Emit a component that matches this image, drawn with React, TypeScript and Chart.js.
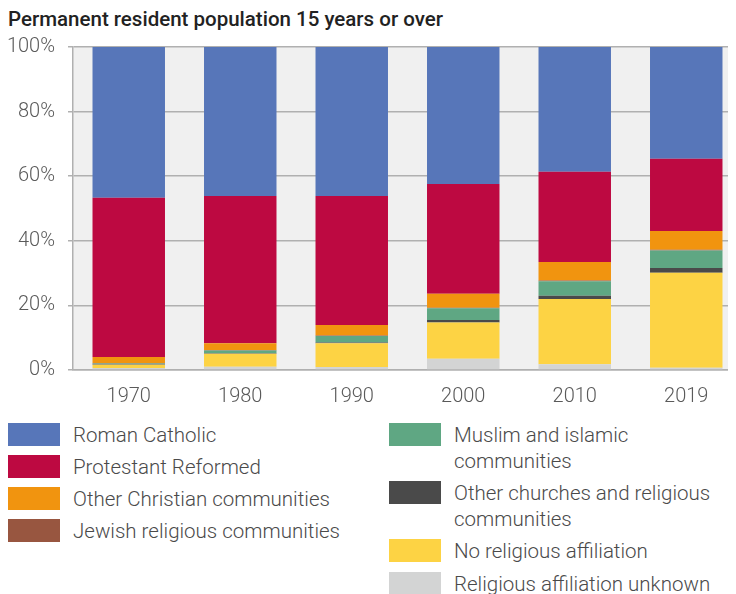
import React, { useEffect, useRef } from "react";
import { Chart, registerables } from "chart.js";

Chart.register(...registerables);

const years = ["1970", "1980", "1990", "2000", "2010", "2019"];
const yTickLabels = ["0%", "20%", "40%", "60%", "80%", "100%"];

const romanCatholic = [46.7, 46.1, 46.1, 42.4, 38.6, 34.6];
const protestantReformed = [49.3, 45.6, 40.0, 34.0, 28.0, 22.4];
const otherChristian = [1.8, 2.1, 3.2, 4.3, 5.7, 5.8];
const jewish = [0.2, 0.2, 0.2, 0.2, 0.2, 0.2];
const muslim = [0.2, 0.8, 2.0, 3.6, 4.5, 5.4];
const otherChurches = [0.2, 0.2, 0.2, 0.8, 1.0, 1.5];
const noReligion = [1.0, 4.0, 7.4, 11.2, 20.2, 29.4];
const unknownAffiliation = [0.6, 1.0, 0.9, 3.5, 1.8, 0.7];

const seriesNames = [
  "Roman Catholic",
  "Protestant Reformed",
  "Other Christian communities",
  "Jewish religious communities",
  "Muslim and islamic communities",
  "Other churches and religious communities",
  "No religious affiliation",
  "Religious affiliation unknown",
];

const COLORS = {
  catholic: "#5776b9",
  protestant: "#bd0941",
  otherChristian: "#f1940f",
  jewish: "#985640",
  muslim: "#5fa783",
  otherChurches: "#4a4a4a",
  none: "#fdd344",
  unknown: "#d3d4d4",
};

const bgPlugin = {
  id: "plotBg",
  beforeDraw(chart: any) {
    const { ctx, chartArea } = chart;
    if (!chartArea) return;
    ctx.save();
    ctx.fillStyle = "#f0f0f0";
    ctx.fillRect(chartArea.left, chartArea.top, chartArea.right - chartArea.left, chartArea.bottom - chartArea.top);
    ctx.restore();
  },
};

const FONT = "Roboto, 'Noto Sans', sans-serif";

type LegendItem = { color: string; lines: string[]; left: number; top: number };

const legendItems: LegendItem[] = [
  { color: COLORS.catholic, lines: [seriesNames[0]], left: 0, top: 415 },
  { color: COLORS.protestant, lines: [seriesNames[1]], left: 0, top: 447 },
  { color: COLORS.otherChristian, lines: [seriesNames[2]], left: 0, top: 479 },
  { color: COLORS.jewish, lines: [seriesNames[3]], left: 0, top: 511 },
  { color: COLORS.muslim, lines: ["Muslim and islamic", "communities"], left: 381, top: 415 },
  { color: COLORS.otherChurches, lines: ["Other churches and religious", "communities"], left: 381, top: 473 },
  { color: COLORS.none, lines: [seriesNames[6]], left: 381, top: 531 },
  { color: COLORS.unknown, lines: [seriesNames[7]], left: 381, top: 564 },
];

export default function App() {
  const canvasRef = useRef<HTMLCanvasElement | null>(null);

  useEffect(() => {
    document.body.style.overflow = "hidden";
    const canvas = canvasRef.current;
    if (!canvas) return;
    const chart = new Chart(canvas, {
      type: "bar",
      data: {
        labels: years,
        datasets: [
          { label: seriesNames[7], data: unknownAffiliation, backgroundColor: COLORS.unknown },
          { label: seriesNames[6], data: noReligion, backgroundColor: COLORS.none },
          { label: seriesNames[5], data: otherChurches, backgroundColor: COLORS.otherChurches },
          { label: seriesNames[4], data: muslim, backgroundColor: COLORS.muslim },
          { label: seriesNames[3], data: jewish, backgroundColor: COLORS.jewish },
          { label: seriesNames[2], data: otherChristian, backgroundColor: COLORS.otherChristian },
          { label: seriesNames[1], data: protestantReformed, backgroundColor: COLORS.protestant },
          { label: seriesNames[0], data: romanCatholic, backgroundColor: COLORS.catholic },
        ].map((d) => ({ ...d, borderWidth: 0, barPercentage: 0.65, categoryPercentage: 1 })),
      },
      options: {
        responsive: false,
        animation: false,
        devicePixelRatio: 1,
        layout: { padding: { top: 19, right: 2, left: 0, bottom: 0 } },
        plugins: { legend: { display: false }, tooltip: { enabled: false }, title: { display: false } },
        scales: {
          x: {
            stacked: true,
            grid: { display: false },
            border: { display: true, color: "#b0b0b0", width: 1.5 },
            ticks: { color: "#5a5a5a", font: { family: FONT, size: 20, weight: 300 }, padding: 7 },
            afterFit(scale: any) {
              scale.height = 40;
              scale.paddingLeft = 0;
              scale.paddingRight = 0;
            },
          },
          y: {
            stacked: true,
            min: 0,
            max: 100,
            grid: { color: "#b0b0b0", lineWidth: 1.5, tickLength: 5, drawTicks: true },
            border: { display: true, color: "#b0b0b0", width: 1.5 },
            ticks: {
              stepSize: 20,
              color: "#5a5a5a",
              font: { family: FONT, size: 20, weight: 300 },
              padding: 13,
              callback: (v: any) => yTickLabels[Math.round(Number(v) / 20)] ?? "",
            },
            afterFit(scale: any) {
              scale.width = 65;
              scale.paddingTop = 0;
              scale.paddingBottom = 0;
            },
          },
        },
      },
      plugins: [bgPlugin],
    } as any);
    return () => chart.destroy();
  }, []);

  return (
    <div style={{ position: "relative", width: 728, height: 586, overflow: "hidden", fontFamily: FONT }}>
      <div
        style={{
          position: "absolute",
          left: 0,
          top: -1,
          fontSize: 20.5,
          lineHeight: "24px",
          fontWeight: 500,
          color: "#222",
          whiteSpace: "nowrap",
        }}
      >
        Permanent resident population 15 years or over
      </div>
      <div style={{ position: "absolute", left: 0, top: 20, width: 728, height: 382, overflow: "hidden" }}>
        <canvas ref={canvasRef} width={736} height={382} style={{ width: 736, height: 382, display: "block" }} />
      </div>
      {legendItems.map((it, i) => (
        <div key={i} style={{ position: "absolute", left: it.left, top: it.top, display: "flex", alignItems: "flex-start" }}>
          <div style={{ width: 52, height: 23, background: it.color, flex: "none" }} />
          <div
            style={{
              marginLeft: 13,
              fontSize: 20.5,
              lineHeight: "26px",
              fontWeight: 300,
              color: "#4a4a4a",
              whiteSpace: "nowrap",
              marginTop: -1,
            }}
          >
            {it.lines.map((l, j) => (
              <div key={j}>{l}</div>
            ))}
          </div>
        </div>
      ))}
    </div>
  );
}
